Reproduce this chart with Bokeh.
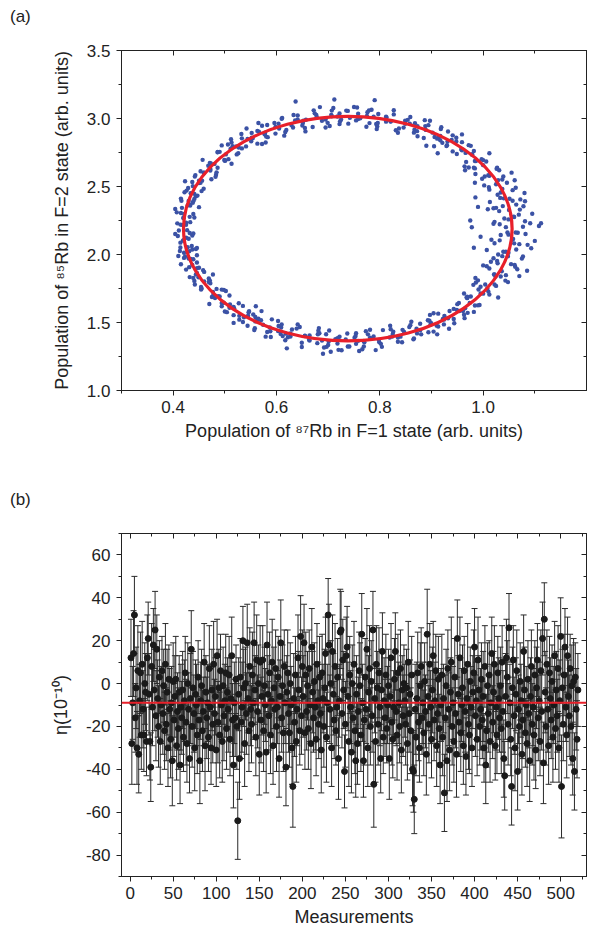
from bokeh.plotting import figure
from bokeh.layouts import column
from bokeh.models import (Range1d, LinearAxis, SingleIntervalTicker, PrintfTickFormatter,
                          ColumnDataSource, Whisker, TeeHead, Span, Div, CustomLabelingPolicy)
from bokeh.embed import file_html
from bokeh.resources import INLINE

FONT = "Liberation Sans"
TXT = "#222222"

# ---------------- panel (a): populations (arb. units) ----------------
pop87 = [
    1.067,1.032,1.059,1.047,1.081,1.020,1.069,1.049,1.091,1.038,1.060,1.025,1.071,1.041,1.081,1.009,
    1.031,1.057,1.078,1.013,1.050,1.034,1.064,1.040,1.020,1.080,1.033,1.063,1.051,1.012,1.072,1.037,
    1.025,1.057,1.028,1.039,1.002,1.061,1.011,1.029,0.985,1.037,1.012,1.046,0.998,1.027,0.984,1.055,
    1.026,1.003,0.984,1.031,1.000,1.010,0.984,1.000,1.012,0.964,0.997,0.972,0.979,1.006,0.958,0.982,
    0.986,0.966,0.976,0.967,0.982,0.949,0.972,0.959,0.978,0.948,0.958,0.939,0.959,0.941,0.959,0.921,
    0.930,0.941,0.948,0.913,0.929,0.918,0.931,0.917,0.905,0.932,0.906,0.919,0.911,0.889,0.917,0.897,
    0.888,0.902,0.885,0.887,0.867,0.894,0.866,0.873,0.849,0.873,0.858,0.872,0.846,0.859,0.835,0.868,
    0.854,0.837,0.821,0.849,0.827,0.831,0.812,0.821,0.827,0.793,0.813,0.795,0.797,0.812,0.779,0.794,
    0.796,0.775,0.784,0.774,0.788,0.754,0.776,0.762,0.780,0.750,0.758,0.738,0.758,0.739,0.756,0.718,
    0.725,0.735,0.742,0.706,0.722,0.710,0.723,0.707,0.695,0.722,0.695,0.707,0.699,0.677,0.703,0.684,
    0.674,0.688,0.670,0.672,0.652,0.678,0.650,0.657,0.633,0.656,0.641,0.655,0.629,0.641,0.617,0.651,
    0.636,0.619,0.604,0.632,0.610,0.615,0.596,0.605,0.611,0.578,0.598,0.580,0.582,0.598,0.565,0.579,
    0.583,0.563,0.572,0.563,0.577,0.544,0.566,0.554,0.572,0.542,0.551,0.532,0.552,0.533,0.552,0.513,
    0.522,0.533,0.541,0.506,0.523,0.512,0.526,0.511,0.500,0.527,0.502,0.515,0.507,0.486,0.513,0.494,
    0.486,0.501,0.486,0.490,0.471,0.499,0.472,0.480,0.457,0.482,0.468,0.483,0.459,0.473,0.450,0.484,
    0.472,0.456,0.443,0.474,0.453,0.459,0.442,0.453,0.460,0.429,0.450,0.434,0.437,0.455,0.423,0.439,
    0.444,0.426,0.438,0.431,0.447,0.416,0.441,0.430,0.450,0.422,0.433,0.415,0.438,0.421,0.441,0.404,
    0.415,0.428,0.439,0.407,0.425,0.417,0.433,0.420,0.411,0.441,0.417,0.432,0.427,0.408,0.437,0.420,
    0.414,0.432,0.419,0.425,0.409,0.439,0.414,0.425,0.404,0.431,0.420,0.437,0.414,0.430,0.410,0.446,
    0.436,0.423,0.413,0.446,0.428,0.437,0.421,0.434,0.444,0.415,0.439,0.425,0.430,0.450,0.421,0.439,
    0.446,0.431,0.446,0.441,0.460,0.432,0.458,0.449,0.472,0.446,0.460,0.444,0.469,0.454,0.477,0.442,
    0.455,0.471,0.484,0.454,0.475,0.469,0.487,0.477,0.470,0.502,0.481,0.498,0.494,0.477,0.509,0.494,
    0.490,0.510,0.500,0.509,0.494,0.527,0.504,0.517,0.498,0.528,0.518,0.537,0.517,0.535,0.517,0.555,
    0.546,0.535,0.528,0.563,0.547,0.558,0.545,0.559,0.571,0.544,0.570,0.557,0.565,0.587,0.559,0.579,
    0.588,0.574,0.591,0.589,0.609,0.582,0.610,0.603,0.627,0.603,0.618,0.604,0.630,0.617,0.641,0.608,
    0.622,0.639,0.655,0.627,0.649,0.645,0.664,0.655,0.649,0.683,0.663,0.681,0.679,0.664,0.697,0.682,
    0.680,0.701,0.692,0.702,0.688,0.722,0.700,0.714,0.696,0.726,0.718,0.738,0.718,0.737,0.720,0.758,
    0.751,0.741,0.734,0.770,0.754,0.766,0.753,0.769,0.781,0.754,0.781,0.769,0.777,0.799,0.773,0.792,
    0.802,0.788,0.806,0.804,0.824,0.798,0.826,0.819,0.843,0.820,0.835,0.821,0.847,0.835,0.859,0.825,
    0.840,0.857,0.872,0.844,0.866,0.861,0.880,0.871,0.865,0.898,0.878,0.896,0.894,0.878,0.911,0.897,
    0.893,0.913,0.904,0.913,0.899,0.932,0.910,0.922,0.904,0.934,0.925,0.944,0.924,0.943,0.924,0.963,
    0.954,0.943,0.935,0.970,0.953,0.964,0.950,0.965,0.976,0.949,0.974,0.961,0.969,0.990,0.963,0.982,
    0.993,0.969,0.991,0.984,1.012,0.968,1.008,0.995,1.029,0.990,1.010,0.986,1.022,1.000,1.034,0.981,
    0.995,1.024,1.048,0.985,1.025,1.012,1.043,1.021,1.004,1.066,1.022,1.054,1.044,1.007,1.070,1.037,
    1.027,1.062,1.036,1.049,1.015,1.077,1.028,1.048,1.007,1.061,1.039,1.075,1.029,1.060,1.020,1.093,
    1.070,1.044,1.022,1.086,1.049,1.064,1.034,1.058,1.077,1.016,1.063,1.032,1.044,1.082,1.022,1.056,
    0.975,0.982,0.990,0.995,0.978,1.000,0.985,1.112,1.095,1.100,1.085,0.637,0.712,0.790,0.890,0.912,
    0.965,0.690,0.705,0.760,0.620,0.560,0.612,1.108,
]
pop85 = [
    2.160,2.222,2.278,2.162,2.245,2.226,2.293,2.258,2.230,2.356,2.276,2.343,2.330,2.265,2.392,2.333,
    2.319,2.395,2.355,2.386,2.328,2.456,2.367,2.413,2.340,2.452,2.416,2.491,2.410,2.477,2.405,2.552,
    2.516,2.473,2.439,2.574,2.508,2.546,2.495,2.547,2.592,2.482,2.579,2.528,2.557,2.639,2.528,2.602,
    2.631,2.573,2.633,2.620,2.694,2.583,2.687,2.657,2.745,2.648,2.700,2.640,2.736,2.684,2.772,2.638,
    2.688,2.747,2.799,2.681,2.761,2.739,2.804,2.766,2.735,2.859,2.776,2.842,2.826,2.758,2.883,2.821,
    2.804,2.876,2.831,2.859,2.797,2.922,2.830,2.872,2.796,2.904,2.864,2.936,2.852,2.916,2.840,2.984,
    2.944,2.896,2.857,2.988,2.917,2.951,2.896,2.943,2.984,2.870,2.962,2.907,2.933,3.011,2.895,2.965,
    2.990,2.926,2.980,2.961,3.030,2.914,3.013,2.978,3.061,2.960,3.007,2.942,3.033,2.977,3.060,2.922,
    2.967,3.019,3.064,2.939,3.014,2.986,3.046,3.002,2.966,3.085,2.996,3.056,3.035,2.962,3.081,3.015,
    2.992,3.058,3.006,3.027,2.959,3.077,2.979,3.016,2.934,3.037,2.992,3.058,2.968,3.026,2.945,3.084,
    3.038,2.984,2.937,3.060,2.984,3.010,2.949,2.991,3.026,2.905,2.992,2.931,2.951,3.022,2.901,2.966,
    2.985,2.915,2.961,2.934,2.998,2.874,2.967,2.927,3.004,2.896,2.938,2.867,2.952,2.889,2.967,2.824,
    2.863,2.909,2.947,2.815,2.884,2.849,2.903,2.854,2.812,2.926,2.832,2.886,2.859,2.780,2.894,2.823,
    2.795,2.854,2.795,2.809,2.736,2.848,2.745,2.776,2.689,2.787,2.736,2.796,2.701,2.754,2.667,2.802,
    2.751,2.691,2.638,2.755,2.674,2.695,2.629,2.666,2.696,2.571,2.653,2.587,2.602,2.669,2.543,2.604,
    2.618,2.543,2.584,2.553,2.612,2.484,2.573,2.528,2.601,2.489,2.526,2.451,2.533,2.466,2.539,2.392,
    2.428,2.470,2.503,2.368,2.433,2.395,2.446,2.393,2.348,2.458,2.360,2.411,2.381,2.299,2.409,2.335,
    2.305,2.361,2.298,2.310,2.234,2.343,2.238,2.266,2.176,2.272,2.218,2.277,2.179,2.229,2.140,2.272,
    2.220,2.158,2.102,2.218,2.136,2.155,2.087,2.123,2.151,2.024,2.105,2.037,2.051,2.116,1.989,2.048,
    2.062,1.986,2.026,1.994,2.053,1.924,2.013,1.968,2.040,1.928,1.965,1.889,1.970,1.903,1.975,1.828,
    1.864,1.907,1.941,1.806,1.872,1.834,1.885,1.833,1.789,1.899,1.802,1.853,1.823,1.742,1.853,1.779,
    1.750,1.808,1.747,1.761,1.687,1.798,1.694,1.724,1.636,1.732,1.680,1.740,1.644,1.696,1.608,1.742,
    1.692,1.633,1.581,1.699,1.619,1.641,1.576,1.614,1.645,1.521,1.604,1.538,1.554,1.622,1.497,1.559,
    1.576,1.504,1.549,1.521,1.583,1.458,1.550,1.508,1.584,1.476,1.516,1.444,1.528,1.464,1.540,1.396,
    1.436,1.484,1.523,1.393,1.463,1.430,1.485,1.437,1.397,1.511,1.418,1.474,1.448,1.370,1.486,1.416,
    1.391,1.455,1.401,1.420,1.351,1.467,1.368,1.403,1.320,1.421,1.374,1.439,1.348,1.404,1.321,1.459,
    1.414,1.361,1.316,1.441,1.367,1.395,1.335,1.378,1.414,1.296,1.384,1.324,1.345,1.419,1.299,1.365,
    1.388,1.323,1.375,1.354,1.421,1.303,1.401,1.365,1.447,1.343,1.389,1.323,1.413,1.354,1.436,1.297,
    1.343,1.397,1.444,1.321,1.397,1.371,1.432,1.390,1.355,1.476,1.389,1.450,1.430,1.359,1.480,1.415,
    1.396,1.466,1.420,1.446,1.383,1.506,1.413,1.454,1.376,1.484,1.443,1.513,1.428,1.491,1.413,1.556,
    1.517,1.471,1.433,1.565,1.496,1.531,1.477,1.526,1.568,1.454,1.548,1.494,1.521,1.600,1.486,1.557,
    1.585,1.526,1.585,1.571,1.644,1.532,1.635,1.604,1.691,1.593,1.644,1.584,1.679,1.626,1.713,1.578,
    1.629,1.689,1.743,1.625,1.706,1.685,1.751,1.714,1.684,1.810,1.728,1.794,1.779,1.712,1.838,1.777,
    1.763,1.838,1.797,1.828,1.769,1.897,1.808,1.853,1.779,1.891,1.854,1.929,1.848,1.914,1.841,1.988,
    1.952,1.910,1.877,2.013,1.947,1.986,1.935,1.987,2.033,1.923,2.020,1.970,2.000,2.082,1.972,2.046,
    2.076,2.020,2.083,2.071,2.146,2.037,2.143,2.114,2.204,2.109,2.162,2.104,2.201,2.151,2.240,2.108,
    2.250,2.050,2.350,2.130,2.200,1.920,2.420,2.230,2.300,2.100,1.880,3.125,3.140,3.135,2.800,2.745,
    2.620,1.270,1.285,1.290,1.310,1.620,1.400,2.210,
]
# fitted ellipse: centre and full axes (arb. units)
fit_cx = [0.738]
fit_cy = [2.190]
fit_w = [0.636]
fit_h = [1.652]

# ---------------- panel (b): eta per measurement ----------------
eta = [
    12,-28,-9,14,32,-16,-2,-30,6,-33,-8,5,-24,9,-12,-24,0,-4,-27,12,
    21,-5,-27,-39,8,-11,18,-3,25,-15,16,-7,-20,3,-27,-10,6,-14,-1,-22,
    9,-19,-4,-30,2,-12,-26,-9,-36,1,-17,-6,2,-29,-13,-21,-4,-38,-11,-16,
    -3,-25,-8,5,-18,-28,0,-12,-35,-7,16,-20,-2,-14,-30,-5,-10,-24,3,-17,
    -36,-8,-1,-22,-13,10,-29,-4,-16,-9,-25,7,-11,-30,-3,-19,9,-14,-6,-31,
    13,-18,-2,-24,6,-10,-27,-1,-15,-8,5,-21,-4,-12,4,-26,-7,13,-17,-38,
    -9,-16,2,-20,-64,-5,-35,3,-18,-11,20,-2,-28,0,-14,19,-7,-22,8,-12,
    -19,4,-9,19,-3,-25,11,-13,0,-33,10,-17,-6,11,-22,-1,-10,-32,18,-5,
    -15,5,-24,-8,10,-29,-2,-12,7,-20,-11,3,-35,-6,19,-16,-1,-23,8,-9,
    -39,-4,5,-14,-23,0,-10,-30,-48,-7,-18,4,-27,-12,12,-3,-22,22,-15,8,
    -6,19,-23,4,-13,-1,-21,7,-10,-28,17,-4,-16,1,-11,-26,9,-8,-19,3,
    -14,-31,5,-7,-20,-2,14,-25,-9,32,18,-12,0,-30,15,-5,-17,8,-22,-11,
    3,-35,-8,24,25,-14,11,-3,-41,-19,13,17,-6,-27,4,-11,-32,0,-16,9,
    -22,-36,-5,-28,-13,6,-1,-24,23,-9,-36,-17,3,-12,16,-30,-4,7,-20,1,
    -15,25,-47,-7,-27,9,-2,-19,5,-11,-35,-3,15,-25,-8,-16,4,-21,-10,-1,
    -35,-6,12,-18,-26,-11,2,15,-13,-24,5,-9,-20,7,-31,-3,-15,0,-8,-19,
    -2,-28,10,-14,-5,-22,4,-40,-41,-54,-12,-25,-7,5,-18,-30,-1,8,-16,-9,
    -23,1,-13,-33,23,-6,-19,9,-11,-26,-3,13,-17,-8,6,-29,-14,2,-21,-38,
    -10,4,-25,-7,-51,-16,-1,-36,7,-12,-31,-4,10,-20,-9,-27,3,-14,-33,21,
    -5,-18,12,-23,-10,-2,-29,6,-13,-34,-7,9,-19,-24,1,-11,-30,-4,5,17,
    -15,-8,-26,11,-3,-20,-12,2,-17,-6,-30,8,-38,-22,-1,-14,4,-27,-9,14,
    -18,-4,9,-29,-11,-24,5,-7,-16,-1,-21,10,-13,-35,-43,-6,12,3,-19,26,
    -9,-26,-48,-2,11,-15,-30,-5,6,-41,-12,-20,1,-8,-33,-17,15,-3,-23,-10,
    -28,2,-14,-36,-6,8,-19,-11,-24,4,-31,-2,11,-16,-8,-27,6,-13,21,-37,
    30,-4,-20,9,-12,-29,5,-7,-17,1,-25,-10,13,-21,-3,-15,7,-30,-8,22,
    -48,-2,-19,4,17,-11,-24,13,-6,-15,7,-20,-1,-35,1,-41,3,-12,-26,-3,
]
eta_err = [
    18,19,17,20,18,16,19,17,21,18,17,19,16,20,18,17,19,18,16,20,
    17,19,18,16,20,18,17,19,18,21,16,18,19,17,20,18,16,19,17,18,
    19,17,20,18,16,19,18,17,21,18,17,19,20,16,18,19,17,18,20,17,
    18,16,19,17,20,18,19,17,16,21,18,19,17,18,20,16,19,18,17,19,
    20,18,17,19,16,18,21,17,19,18,16,20,18,17,19,18,20,16,18,17,
    17,19,18,20,17,16,19,18,21,17,18,19,16,20,18,17,19,18,17,20,
    19,18,16,20,18,17,19,18,17,21,16,18,20,17,19,18,16,19,18,17,
    18,20,17,19,16,18,21,17,18,19,17,20,18,16,19,18,17,19,20,18,
    16,19,18,17,20,18,19,16,18,21,17,19,18,17,20,16,19,18,17,19,
    18,17,20,18,16,19,18,17,19,21,16,18,19,17,20,18,16,19,18,17,
    19,18,17,20,18,16,19,18,17,21,18,19,16,18,20,17,19,18,16,19,
    17,20,18,16,19,18,17,21,18,17,19,16,20,18,17,19,18,20,16,18,
    18,19,17,20,18,16,19,18,17,20,18,19,16,21,18,17,19,18,16,20,
    20,17,18,19,16,18,20,17,19,18,17,21,18,16,19,18,17,20,18,19,
    17,18,20,16,19,18,17,19,21,18,16,19,18,17,20,18,19,16,18,17,
    19,18,16,20,18,17,19,18,16,21,18,19,17,18,20,16,19,18,17,19,
    18,17,19,18,16,20,18,17,19,16,21,18,17,19,18,16,20,18,17,19,
    20,18,17,19,21,16,18,19,17,18,20,16,19,18,17,19,18,20,16,18,
    17,19,18,16,18,20,17,19,18,17,19,16,21,18,17,19,18,16,20,18,
    18,16,19,18,17,20,18,16,19,18,17,19,21,18,16,19,18,17,20,18,
    19,18,17,20,16,18,19,17,18,21,16,19,18,17,20,18,16,19,18,17,
    17,19,18,16,20,18,17,19,16,18,21,17,19,18,16,20,18,17,19,16,
    18,17,18,19,16,18,20,17,19,18,16,20,18,17,19,18,17,20,16,18,
    20,18,16,19,18,17,19,18,21,16,18,19,17,20,18,16,19,18,17,19,
    17,19,18,16,20,18,17,19,18,17,21,18,16,19,18,17,20,16,19,18,
    24,18,17,19,18,16,20,18,17,19,16,18,19,17,20,18,16,19,18,17,
]
eta_mean = -9.0
n_meas = min(len(eta), len(eta_err))
measurement = list(range(1, n_meas + 1))

NO_LABELS = "for (const i of indices) { indices.unset(i) } return indices"


def style(p, xint, yint, xfmt, yfmt, xlabel, ylabel):
    p.xgrid.visible = False
    p.ygrid.visible = False
    p.outline_line_color = TXT
    p.outline_line_width = 1
    p.background_fill_color = "white"
    p.border_fill_color = "white"
    p.xaxis.ticker = SingleIntervalTicker(interval=xint, num_minor_ticks=2)
    p.yaxis.ticker = SingleIntervalTicker(interval=yint, num_minor_ticks=2)
    p.xaxis.formatter = PrintfTickFormatter(format=xfmt)
    p.yaxis.formatter = PrintfTickFormatter(format=yfmt)
    p.xaxis.axis_label = xlabel
    p.yaxis.axis_label = ylabel
    for ax in (p.xaxis[0], p.yaxis[0]):
        ax.axis_line_color = TXT
        ax.major_tick_line_color = TXT
        ax.minor_tick_line_color = TXT
        ax.major_tick_out = 5
        ax.major_tick_in = 0
        ax.minor_tick_out = 3
        ax.minor_tick_in = 0
        ax.major_label_text_font = FONT
        ax.major_label_text_font_size = "17px"
        ax.major_label_text_color = TXT
        ax.axis_label_text_font = FONT
        ax.axis_label_text_font_size = "18px"
        ax.axis_label_text_font_style = "normal"
        ax.axis_label_text_color = TXT
    p.yaxis.major_label_standoff = 6
    p.yaxis.axis_label_standoff = 12
    for side, iv in (("above", xint), ("right", yint)):
        ax = LinearAxis(ticker=SingleIntervalTicker(interval=iv, num_minor_ticks=2),
                        major_label_policy=CustomLabelingPolicy(code=NO_LABELS),
                        major_label_text_font_size="0px",
                        major_label_standoff=0,
                        major_tick_in=5, major_tick_out=0, minor_tick_in=3, minor_tick_out=0,
                        axis_line_color=TXT, major_tick_line_color=TXT,
                        minor_tick_line_color=TXT)
        p.add_layout(ax, side)


def panel_tag(text, height, line_height):
    return Div(text=text, width=609, height=height, margin=(0, 0, 0, 0),
               styles={"font-family": FONT, "font-size": "17px", "color": TXT,
                       "padding-left": "10px", "line-height": f"{line_height}px",
                       "box-sizing": "border-box", "overflow": "visible"})


# ---------------- figure (a) ----------------
pa = figure(width=609, height=440, x_range=Range1d(0.3, 1.2), y_range=Range1d(1.0, 3.5),
            output_backend="svg", toolbar_location=None, margin=(0, 0, 0, 0),
            min_border_left=121, min_border_right=20, min_border_top=20, min_border_bottom=80)
style(pa, 0.2, 0.5, "%.1f", "%.1f",
      "Population of \u2078\u2077Rb in F=1 state (arb. units)",
      "Population of \u2078\u2075Rb in F=2 state (arb. units)")
pa.xaxis[0].major_label_standoff = 4
pa.xaxis[0].axis_label_standoff = 10
pa.scatter(pop87, pop85, size=4.4, fill_color="#3b52a5", line_color=None)
pa.ellipse(x=fit_cx, y=fit_cy, width=fit_w, height=fit_h, fill_color=None,
           line_color="#e8202a", line_width=3.2)

# ---------------- figure (b) ----------------
pb = figure(width=609, height=426, x_range=Range1d(-10, 530), y_range=Range1d(-90, 70),
            output_backend="svg", toolbar_location=None, margin=(0, 0, 0, 0),
            min_border_left=121, min_border_right=23, min_border_top=23, min_border_bottom=60)
style(pb, 50, 20, "%d", "%d", "Measurements", "\u03b7(10\u207b\u00b9\u2070)")
pb.xaxis[0].major_label_standoff = 6
pb.xaxis[0].axis_label_standoff = 8

src = ColumnDataSource(dict(
    x=measurement,
    eta=eta[:n_meas],
    upper=[v + e for v, e in zip(eta[:n_meas], eta_err[:n_meas])],
    lower=[v - e for v, e in zip(eta[:n_meas], eta_err[:n_meas])],
))
wh = Whisker(source=src, base="x", upper="upper", lower="lower",
             line_color="#2a2a2a", line_width=1,
             upper_head=TeeHead(size=6, line_color="#2a2a2a", line_width=1),
             lower_head=TeeHead(size=6, line_color="#2a2a2a", line_width=1))
wh.level = "underlay"
pb.add_layout(wh)
pb.scatter("x", "eta", source=src, size=6, fill_color="#1a1a1a", line_color="#1a1a1a")
pb.add_layout(Span(location=eta_mean, dimension="width", line_color="#e8202a", line_width=2))

layout = column(panel_tag("(a)", 30, 34), pa, panel_tag("(b)", 40, 60), pb,
                spacing=0, margin=(0, 0, 0, 0))
open("out.html", "w").write(file_html(layout, INLINE))
